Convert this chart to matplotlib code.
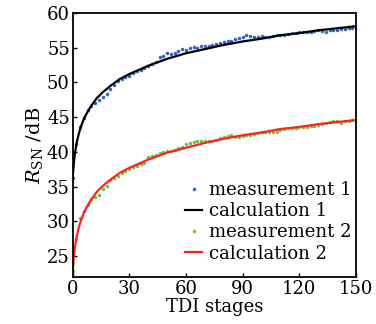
import matplotlib
matplotlib.use("Agg")
import matplotlib.pyplot as plt

plt.rcParams["font.family"] = ["DejaVu Serif"]
plt.rcParams["mathtext.fontset"] = "dejavuserif"

# measured points, every 2 TDI stages
stages = list(range(0, 151, 2))
meas1 = [36.3, 41.2, 43.6, 44.9, 46.1, 46.6, 47.1, 47.5, 47.9, 48.3,
         49.1, 49.7, 50.2, 50.5, 50.8, 51.0, 51.3, 51.6, 51.8, 52.1,
         52.3, 52.6, 53.0, 53.7, 53.8, 54.2, 54.1, 54.3, 54.5, 54.8,
         54.7, 54.9, 55.1, 54.9, 55.2, 55.3, 55.3, 55.4, 55.5, 55.7,
         55.8, 55.9, 56.0, 56.2, 56.4, 56.6, 56.8, 56.7, 56.6, 56.6,
         56.7, 56.5, 56.6, 56.7, 56.8, 56.9, 56.9, 57.0, 57.1, 57.1,
         57.2, 57.2, 57.3, 57.3, 57.4, 57.5, 57.4, 57.3, 57.5, 57.6,
         57.6, 57.7, 57.7, 57.8, 57.8, 57.8]
meas2 = [22.9, 27.4, 30.5, 31.5, 32.4, 33.2, 33.5, 33.8, 34.6, 35.1,
         35.9, 36.3, 36.6, 36.9, 37.2, 37.5, 37.8, 38.0, 38.2, 38.4,
         39.2, 39.4, 39.6, 39.8, 40.0, 40.1, 40.2, 40.3, 40.5, 40.7,
         41.2, 41.3, 41.5, 41.6, 41.6, 41.6, 41.6, 41.6, 41.7, 42.0,
         42.2, 42.3, 42.5, 42.2, 42.2, 42.3, 42.4, 42.5, 42.6, 42.7,
         42.8, 42.85, 42.85, 42.85, 42.9, 43.1, 43.3, 43.4, 43.4, 43.5,
         43.55, 43.6, 43.65, 43.7, 43.8, 43.9, 44.05, 44.2, 44.3, 44.4,
         44.5, 44.2, 44.4, 44.5, 44.55, 44.6]

# calculated curves
calc_stages = [0, 1, 2, 3, 4, 6, 8, 10, 13, 16, 20, 25, 30, 40, 50,
               60, 70, 80, 90, 100, 110, 120, 130, 140, 150]
calc1 = [36.3, 39.3, 41.1, 42.3, 43.3, 44.8, 45.8, 46.7, 47.8, 48.6,
         49.5, 50.5, 51.2, 52.4, 53.4, 54.2, 54.8, 55.4, 55.9, 56.3,
         56.8, 57.1, 57.5, 57.8, 58.1]
calc2 = [22.8, 25.8, 27.6, 28.8, 29.8, 31.3, 32.3, 33.2, 34.3, 35.1,
         36.0, 37.0, 37.7, 38.9, 39.9, 40.6, 41.3, 41.9, 42.4, 42.8,
         43.3, 43.6, 44.0, 44.3, 44.6]

labels = ["measurement 1", "calculation 1", "measurement 2", "calculation 2"]

fig = plt.figure(figsize=(3.76, 3.24), dpi=100)
ax = fig.add_axes([0.193, 0.145, 0.754, 0.815])

ax.plot(stages, meas1, "o", ms=2.5, color="#2f62c8", mew=0, label=labels[0])
ax.plot(calc_stages, calc1, "-", lw=1.6, color="black", label=labels[1])
ax.plot(stages, meas2, "o", ms=2.5, color="#6cc040", mew=0, label=labels[2])
ax.plot(calc_stages, calc2, "-", lw=1.6, color="#ff2020", label=labels[3])

ax.set_xlim(0, 150)
ax.set_ylim(22, 60)
ax.set_xticks([0, 30, 60, 90, 120, 150])
ax.set_yticks([25, 30, 35, 40, 45, 50, 55, 60])
ax.tick_params(direction="in", length=3, width=1, labelsize=13, pad=2)
for s in ax.spines.values():
    s.set_linewidth(1.3)

ax.set_xlabel("TDI stages", fontsize=13, labelpad=0)
ax.set_ylabel(r"$R_{\mathrm{SN}}$ /dB", fontsize=14, labelpad=1)

ax.legend(loc="lower right", bbox_to_anchor=(1.035, 0.0), frameon=False,
          fontsize=13, handlelength=0.9, handletextpad=0.4,
          labelspacing=0.18, borderaxespad=0.4, markerscale=1.0)

fig.savefig("out.png", dpi=100)
